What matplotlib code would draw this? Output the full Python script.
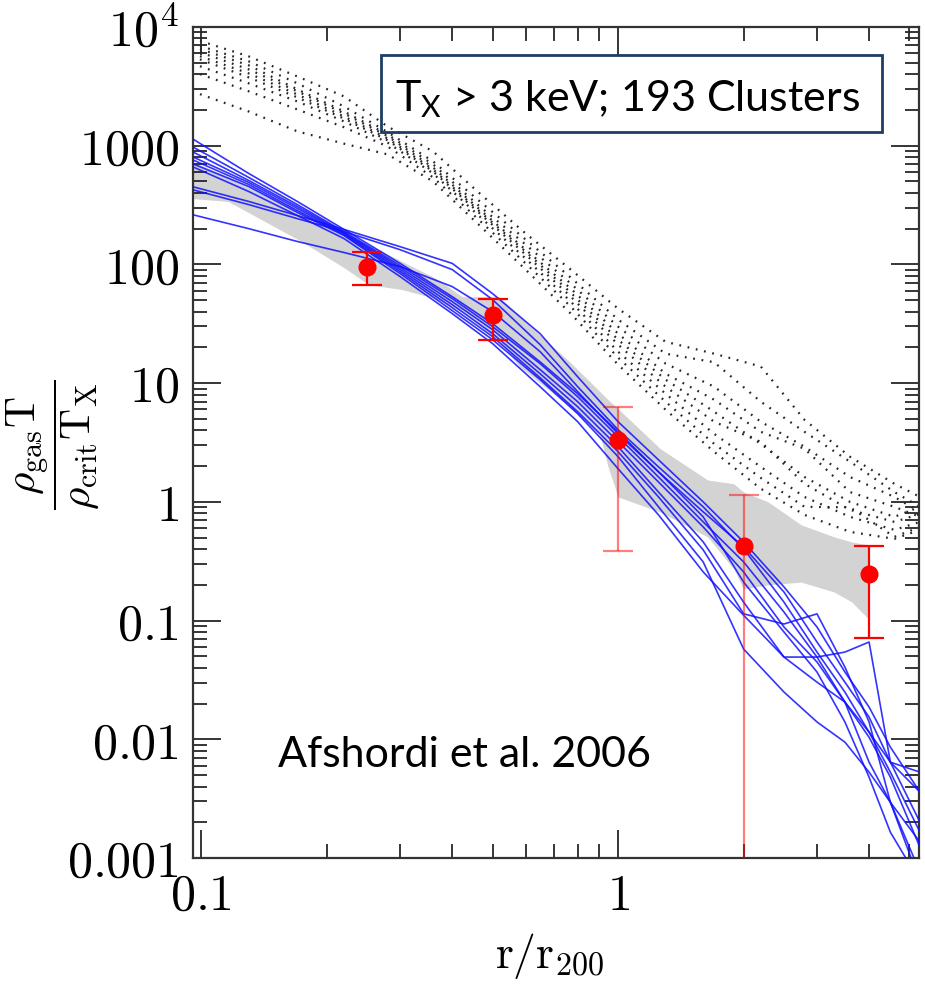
import matplotlib.pyplot as plt
from matplotlib.ticker import LogLocator, NullFormatter
from matplotlib.patches import Rectangle

plt.rcParams['mathtext.fontset'] = 'cm'
plt.rcParams['mathtext.rm'] = 'Lato'
plt.rcParams['mathtext.it'] = 'Lato:italic'

# --- simulated profiles (black dotted) ---
r_dot = [0.095, 0.13, 0.17, 0.22, 0.28, 0.36, 0.46, 0.6, 0.77, 1.0, 1.3, 1.7, 2.2, 2.8, 3.6, 4.6, 5.3]
dot1 = [8020, 5650, 3830, 2600, 1450, 894, 411, 182, 90.4, 42.4, 22.3, 17.7, 13.8, 4.91, 2.40, 1.42, 1.10]
dot2 = [7280, 5130, 3350, 2140, 1300, 736, 352, 162, 77.4, 34.3, 17.7, 15.0, 6.97, 3.89, 2.18, 1.21, 0.908]
dot3 = [6870, 4750, 2980, 1940, 1240, 695, 319, 147, 68.9, 29.9, 14.6, 9.33, 4.73, 2.91, 1.62, 1.10, 0.824]
dot4 = [6470, 4390, 2870, 1870, 1200, 655, 301, 133, 62.5, 26.1, 12.0, 7.25, 3.89, 2.80, 1.21, 0.908, 0.748]
dot5 = [5990, 4060, 2700, 1760, 1150, 630, 290, 128, 57.8, 23.2, 10.7, 5.74, 3.08, 1.62, 1.0, 0.748, 0.908]
dot6 = [5650, 3760, 2550, 1690, 1110, 606, 279, 121, 53.5, 21.1, 9.33, 4.73, 3.2, 1.42, 0.857, 0.678, 0.792]
dot7 = [4930, 3350, 2360, 1600, 1060, 583, 263, 112, 48.6, 18.4, 8.14, 3.74, 1.97, 1.10, 0.748, 0.581, 0.678]
dot8 = [4230, 2870, 2020, 1430, 985, 540, 243, 102, 44.1, 16.4, 6.97, 3.08, 1.59, 0.908, 0.90, 0.507, 0.615]
dot9 = [2870, 1940, 1320, 1040, 844, 499, 221, 90.4, 38.5, 14.3, 5.97, 2.64, 1.29, 0.777, 0.559, 0.488, 0.581]
dotted = [dot1, dot2, dot3, dot4, dot5, dot6, dot7, dot8, dot9]

# --- individual cluster profiles (blue) ---
r_blue = [0.095, 0.13, 0.17, 0.22, 0.3, 0.4, 0.5, 0.65, 0.8, 1.0, 1.25, 1.6, 2.0, 2.5, 3.0, 3.5, 4.0, 4.5, 5.3]
blue1 = [1150, 583, 339, 197, 102, 53.5, 31.7, 15.1, 8.14, 3.89, 1.79, 0.824, 0.418, 0.174, 0.066, 0.0303, 0.0154, 0.00642, 0.0020]
blue2 = [985, 540, 319, 189, 97.7, 51.5, 29.9, 14.6, 7.68, 3.53, 1.62, 0.678, 0.312, 0.118, 0.0493, 0.0206, 0.0104, 0.0048, 0.00123]
blue3 = [894, 509, 307, 185, 94.0, 48.6, 28.2, 13.0, 6.97, 3.21, 1.47, 0.615, 0.257, 0.0883, 0.0448, 0.0206, 0.00642, 0.00295, 0.00076]
blue4 = [811, 490, 296, 182, 90.4, 45.8, 26.1, 12.0, 6.32, 2.91, 1.21, 0.46, 0.143, 0.0493, 0.0493, 0.0543, 0.066, 0.00642, 0.00529]
blue5 = [765, 471, 284, 178, 87.0, 43.2, 24.6, 11.1, 5.74, 2.64, 1.10, 0.394, 0.114, 0.0936, 0.114, 0.0406, 0.0140, 0.00295, 0.00063]
blue6 = [453, 339, 258, 197, 141, 102, 56.7, 26.1, 11.3, 4.73, 2.26, 1.0, 0.46, 0.192, 0.0883, 0.0369, 0.0187, 0.00859, 0.00359]
blue7 = [427, 319, 243, 189, 133, 90.4, 50.5, 21.1, 9.33, 4.05, 1.97, 0.908, 0.402, 0.143, 0.0543, 0.025, 0.0115, 0.00529, 0.00165]
blue8 = [263, 200, 156, 126, 95.9, 65.0, 40.0, 18.4, 8.47, 3.74, 1.79, 0.748, 0.211, 0.0801, 0.0369, 0.0140, 0.0048, 0.00165, 0.00063]
blue9 = [708, 453, 274, 175, 83.7, 40.8, 23.2, 10.7, 5.52, 2.40, 0.908, 0.312, 0.0576, 0.025, 0.0140, 0.00947, 0.00529, 0.00295, 0.00136]
blue10 = [668, 411, 258, 165, 78.9, 38.5, 21.5, 9.33, 4.73, 1.90, 0.777, 0.257, 0.111, 0.0493, 0.0303, 0.0206, 0.0115, 0.00642, 0.00359]
blues = [blue1, blue2, blue3, blue4, blue5, blue6, blue7, blue8, blue9, blue10]

# --- grey band ---
band_r = [0.095, 0.116, 0.174, 0.222, 0.252, 0.303, 0.366, 0.423, 0.519, 0.58, 0.766, 0.905,
          0.946, 1.0, 1.263, 1.64, 1.894, 2.0, 2.29, 2.75, 3.30, 3.63, 3.99]
band_hi = [736, 550, 279, 182, 147, 106, 76, 53.5, 53.5, 36.3, 15.1, 8.46,
           7.24, 6.08, 2.80, 1.53, 1.42, 1.21, 1.0, 0.64, 0.507, 0.46, 0.434]
band_lo = [359, 339, 156, 92, 67.6, 61.4, 51.5, 40, 22.3, 13.8, 6.32, 3.67,
           1.97, 1.10, 0.82, 0.507, 0.272, 0.185, 0.20, 0.211, 0.174, 0.144, 0.103]

# --- stacked data points ---
pt_r = [0.25, 0.5, 1.0, 2.0, 4.0]
pt_y = [96, 37.7, 3.33, 0.425, 0.247]
pt_hi = [128, 51.6, 6.3, 1.15, 0.425]
pt_lo = [67, 23.2, 0.386, 1e-5, 0.0713]
pt_faint = [False, False, True, True, False]

y_ticks = [1e-3, 1e-2, 1e-1, 1, 10, 100, 1000, 1e4]
y_labels = ['$0.001$', '$0.01$', '$0.1$', '$1$', '$10$', '$100$', '$1000$', '$10^4$']
x_ticks = [0.1, 1]
x_labels = ['$0.1$', '$1$']

fig = plt.figure(figsize=(9.25, 9.84), dpi=100)
ax = fig.add_axes([0.2086, 0.128, 0.7849, 0.8446])

ax.fill_between(band_r, band_lo, band_hi, color='#d3d3d3', lw=0, zorder=1)
for prof in dotted:
    ax.plot(r_dot, prof, color='0.15', ls=(0, (0.8, 3.0)), lw=1.6, zorder=2)
for prof in blues:
    ax.plot(r_blue, prof, color='#1010ff', lw=1.2, alpha=0.85, zorder=3)

for i in range(len(pt_r)):
    ecol = (1, 0, 0, 0.5) if pt_faint[i] else 'red'
    ax.errorbar([pt_r[i]], [pt_y[i]], yerr=[[pt_y[i] - pt_lo[i]], [pt_hi[i] - pt_y[i]]],
                fmt='o', color='red', ecolor=ecol, ms=12, capsize=11,
                elinewidth=1.6, capthick=1.6, zorder=5)

ax.set_xscale('log')
ax.set_yscale('log')
ax.set_xlim(0.0955, 5.27)
ax.set_ylim(1e-3, 1e4)

ax.set_yticks(y_ticks, y_labels)
ax.set_xticks(x_ticks, x_labels)
ax.xaxis.set_minor_locator(LogLocator(base=10, subs=range(2, 10), numticks=20))
ax.yaxis.set_minor_locator(LogLocator(base=10, subs=range(2, 10), numticks=20))
ax.xaxis.set_minor_formatter(NullFormatter())
ax.yaxis.set_minor_formatter(NullFormatter())
ax.tick_params(which='both', direction='in', top=True, right=True, width=1.3, color='0.15')
ax.tick_params(which='major', length=20, labelsize=36, pad=10)
ax.tick_params(which='minor', length=10)
for s in ax.spines.values():
    s.set_linewidth(1.6)
    s.set_color('0.2')

ax.set_xlabel(r'$\mathrm{r/r_{200}}$', fontsize=33)
ax.xaxis.set_label_coords(0.492, -0.088)
ax.set_ylabel(r'$\dfrac{\rho_{\rm gas}\mathrm{T}}{\rho_{\rm crit}\mathrm{T_X}}$', fontsize=31)
ax.yaxis.set_label_coords(-0.127, 0.497)

fig.patches.append(Rectangle((381 / 925, 1 - 132 / 984), 501 / 925, 77 / 984,
                             transform=fig.transFigure, fill=False,
                             edgecolor='#1f3c64', lw=2))
fig.text(395 / 925, 1 - 111 / 984, r'T$_{\mathrm{X}}$ > 3 keV; 193 Clusters',
         fontsize=31, family='Lato', math_fontfamily='custom', va='baseline')
fig.text(278 / 925, 1 - 767 / 984, 'Afshordi et al. 2006',
         fontsize=31, family='Lato', va='baseline')

plt.savefig('out.png', dpi=100)
